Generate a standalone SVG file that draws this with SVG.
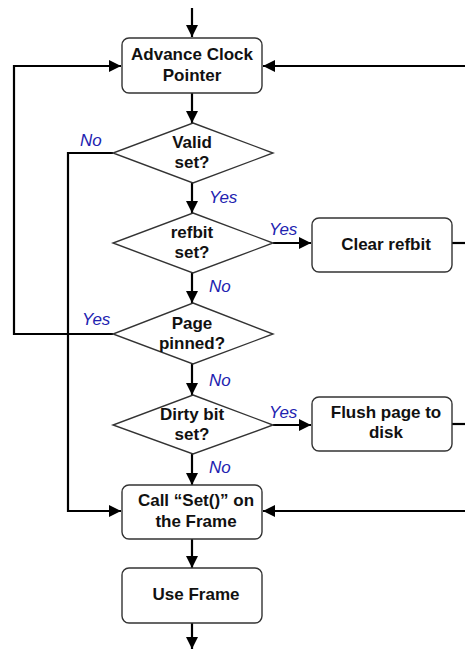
<svg xmlns="http://www.w3.org/2000/svg" width="465" height="649" viewBox="0 0 465 649">
<defs>
<style>
.box{fill:#fff;stroke:#333;stroke-width:1.4}
.t{font-family:"Liberation Sans",Arial,sans-serif;font-weight:bold;font-size:17px;fill:#111;text-anchor:middle}
.lb{font-family:"Liberation Sans",Arial,sans-serif;font-style:italic;font-size:17px;fill:#2222b0}
.c{fill:none;stroke:#000;stroke-width:2.2}
</style>
<marker id="ah" viewBox="0 0 12 12" refX="12" refY="6" markerWidth="12" markerHeight="12" markerUnits="userSpaceOnUse" orient="auto"><path d="M0,0 L12,6 L0,12 z" fill="#000"/></marker>
</defs>
<rect width="465" height="649" fill="#fff"/>
<g id="connectors">
<path class="c" d="M192,8 V37" marker-end="url(#ah)"/>
<path class="c" d="M465,66 H263" marker-end="url(#ah)"/>
<path class="c" d="M113,334 H14 V66 H121" marker-end="url(#ah)"/>
<path class="c" d="M192,93 V123" marker-end="url(#ah)"/>
<path class="c" d="M113,153 H68 V511 H121" marker-end="url(#ah)"/>
<path class="c" d="M192,183 V213" marker-end="url(#ah)"/>
<path class="c" d="M273,243 H311" marker-end="url(#ah)"/>
<path class="c" d="M452,243 H465"/>
<path class="c" d="M192,273 V303" marker-end="url(#ah)"/>
<path class="c" d="M192,364 V395" marker-end="url(#ah)"/>
<path class="c" d="M273,425 H311" marker-end="url(#ah)"/>
<path class="c" d="M452,424 H465"/>
<path class="c" d="M192,454 V485" marker-end="url(#ah)"/>
<path class="c" d="M465,511 H263" marker-end="url(#ah)"/>
<path class="c" d="M192,539 V568" marker-end="url(#ah)"/>
<path class="c" d="M192,623 V649" marker-end="url(#ah)"/>
<text class="lb" x="80" y="146">No</text>
<text class="lb" x="209" y="203">Yes</text>
<text class="lb" x="269" y="235">Yes</text>
<text class="lb" x="209" y="292">No</text>
<text class="lb" x="82" y="325">Yes</text>
<text class="lb" x="209" y="386">No</text>
<text class="lb" x="269" y="418">Yes</text>
<text class="lb" x="209" y="473">No</text>
</g>
<g id="advance">
<rect class="box" x="122" y="38" width="140" height="55" rx="7"/>
<text class="t" x="192" y="60">Advance Clock</text>
<text class="t" x="192" y="81">Pointer</text>
</g>
<g id="valid">
<polygon class="box" points="193,123 273,153 193,183 113,153"/>
<text class="t" x="192" y="148">Valid</text>
<text class="t" x="192" y="168">set?</text>
</g>
<g id="refbit">
<polygon class="box" points="193,213 273,243 193,273 113,243"/>
<text class="t" x="192" y="238">refbit</text>
<text class="t" x="192" y="258">set?</text>
</g>
<g id="clear">
<rect class="box" x="312" y="218" width="140" height="54" rx="7"/>
<text class="t" x="386" y="250">Clear refbit</text>
</g>
<g id="pinned">
<polygon class="box" points="193,303 273,334 193,364 113,334"/>
<text class="t" x="192" y="329">Page</text>
<text class="t" x="192" y="349">pinned?</text>
</g>
<g id="dirty">
<polygon class="box" points="193,395 273,425 193,454 113,425"/>
<text class="t" x="192" y="420">Dirty bit</text>
<text class="t" x="192" y="440">set?</text>
</g>
<g id="flush">
<rect class="box" x="312" y="397" width="140" height="54" rx="7"/>
<text class="t" x="386" y="418">Flush page to</text>
<text class="t" x="386" y="438">disk</text>
</g>
<g id="call">
<rect class="box" x="122" y="485" width="140" height="54" rx="7"/>
<text class="t" x="196" y="506">Call “Set()” on</text>
<text class="t" x="196" y="527">the Frame</text>
</g>
<g id="use">
<rect class="box" x="122" y="568" width="140" height="55" rx="7"/>
<text class="t" x="196" y="600">Use Frame</text>
</g>
</svg>
